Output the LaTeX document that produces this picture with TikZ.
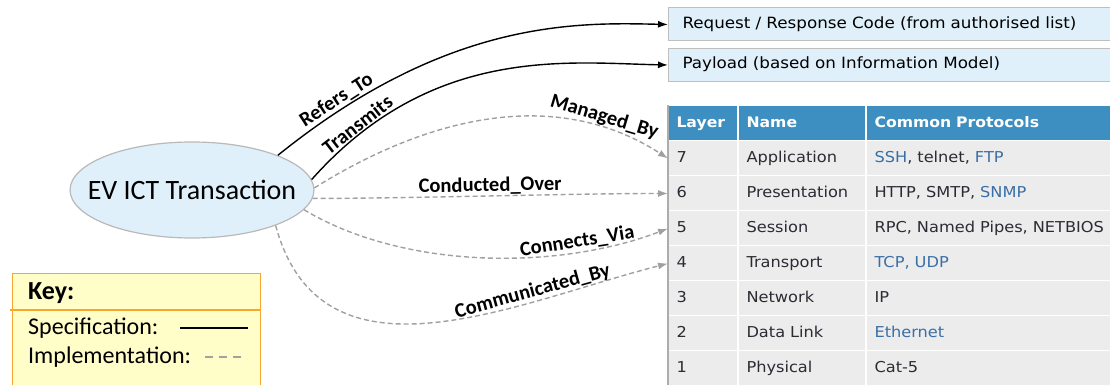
\documentclass[tikz,border=0pt]{standalone}
\usepackage{fontspec}
\setmainfont{Carlito}
\newfontfamily\tablefont[FakeStretch=1.08]{DejaVu Sans}
\usetikzlibrary{arrows.meta,shapes.geometric,positioning}
\definecolor{boxBlue}{HTML}{DFF0FB}
\definecolor{headBlue}{HTML}{3D8FC1}
\definecolor{cellGray}{HTML}{ECECEC}
\definecolor{linkBlue}{HTML}{3A6FA6}
\definecolor{tableText}{HTML}{2E2A33}
\definecolor{keyYellow}{HTML}{FFFDC8}
\definecolor{keyOrange}{HTML}{F7A630}
\definecolor{implGray}{HTML}{A0A0A0}
\newcommand{\lnk}[1]{\textcolor{linkBlue}{#1}}
\tikzset{spec/.style={line width=1.4pt, black, ->},
    impl/.style={line width=1.4pt, implGray, dash pattern=on 5pt off 3pt, ->},
    relLabel/.style={font=\bfseries\fontsize{20.5}{21}\selectfont, text=black, sloped, above, inner sep=1pt},
    infoBox/.style={draw=gray!50, line width=1pt, fill=boxBlue, anchor=west, text width=414pt, inner xsep=14pt,
        minimum height=33pt, text height=11pt, text depth=3pt, font=\tablefont\fontsize{15.5}{17}\selectfont},
    cell/.style={draw=white, line width=1pt, fill=cellGray, inner xsep=8pt, minimum height=35pt,
        text height=11pt, text depth=3pt, font=\tablefont\fontsize{15}{17}\selectfont, text=tableText},
    headCell/.style={cell, fill=headBlue, text=white, font=\tablefont\bfseries\fontsize{14.5}{17}\selectfont},
    keyText/.style={anchor=west, font=\fontsize{24}{26}\selectfont, inner sep=0pt},
    }

\begin{document}
\begin{tikzpicture}[x=1pt, y=1pt, >={Latex[length=10pt,width=7pt]}]
	\useasboundingbox (0,0) rectangle (1110,385);

	% transaction
	\node[ellipse, draw=gray!55, line width=1.2pt, fill=boxBlue, minimum width=240pt, minimum height=96pt,
		inner xsep=-18pt, inner ysep=18pt, font=\fontsize{28}{30}\selectfont] (evTrans) at (192,195) {EV ICT Transaction};

	% message parts
	\node[infoBox] (reqCode) at (668,360.5) {Request / Response Code (from authorised list)};
	\node[infoBox] (payload) at (668,320) {Payload (based on Information Model)};

	% OSI table
	\node[headCell, anchor=west, text width=53pt] (headLayer) at (668,261.5) {Layer};
	\node[headCell, text width=111pt, right=0pt of headLayer] (headName) {Name};
	\node[headCell, text width=230pt, right=0pt of headName] (headProto) {Common Protocols};
	\foreach \num/\lname/\protos [count=\i] in {
		7/Application/{\lnk{SSH}, telnet, \lnk{FTP}},
		6/Presentation/{HTTP, SMTP, \lnk{SNMP}},
		5/Session/{RPC, Named Pipes, NETBIOS},
		4/Transport/{\lnk{TCP, UDP}},
		3/Network/IP,
		2/Data Link/\lnk{Ethernet},
		1/Physical/Cat-5}{
		\node[cell, anchor=west, text width=53pt] (layer\num) at (668,261.5-35*\i) {\num};
		\node[cell, text width=111pt, right=0pt of layer\num] (name\num) {\lname};
		\node[cell, text width=230pt, right=0pt of name\num] (proto\num) {\protos};
	}
	\draw[gray!65, line width=1.2pt] (headLayer.north west) -- (layer1.south west);

	% relations
	\draw[spec] (evTrans.22)..controls +(170,137) and +(-90,2)..(reqCode.west)
		node[relLabel, pos=0.13]{Refers\_To};
	\draw[spec] (evTrans.5)..controls +(120,135) and +(-100,2)..(payload.west)
		node[relLabel, pos=0.14]{Transmits};
	\draw[impl] (evTrans.1)..controls +(120,75) and +(-108,70)..(layer7.west)
		node[relLabel, pos=0.8]{Managed\_By};
	\draw[impl] (evTrans.-4)..controls +(100,0) and +(-100,0)..(layer6.west)
		node[relLabel, pos=0.5]{Conducted\_Over};
	\draw[impl] (evTrans.-10)..controls +(100,-60) and +(-110,-42)..(layer5.west)
		node[relLabel, pos=0.75]{Connects\_Via};
	\draw[impl] (evTrans.-23)..controls +(46,-170) and +(-150,-38)..(layer4.west)
		node[relLabel, pos=0.72]{Communicated\_By};

	% key
	\node[draw=keyOrange, line width=1.2pt, fill=keyYellow, anchor=north west, minimum width=248pt,
		minimum height=118pt] (keyBox) at (12,112) {};
	\draw[keyOrange, line width=1.2pt] (10,75) -- (keyBox.east |- 0,75);
	\node[keyText, font=\bfseries\fontsize{26}{28}\selectfont] (keyTitle) at (28,92) {Key:};
	\node[keyText] (specText) at (28,57) {Specification:};
	\node[keyText] (implText) at (28,28) {Implementation:};
	\coordinate (specA) at (180,57);
	\coordinate (specB) at (248,57);
	\coordinate (implA) at (205,28);
	\coordinate (implB) at (245,28);
	\draw[black, line width=2pt] (specA) -- (specB);
	\draw[implGray, line width=1.5pt, dash pattern=on 8pt off 6pt] (implA) -- (implB);
\end{tikzpicture}
\end{document}
